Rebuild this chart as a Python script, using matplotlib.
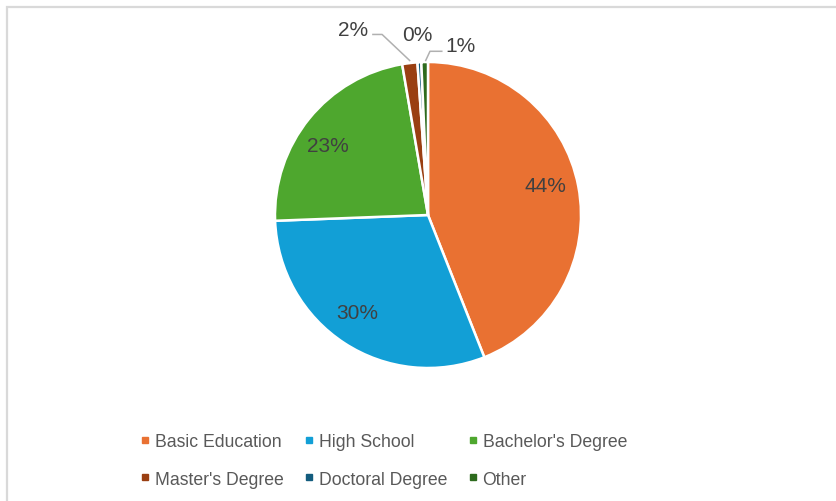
import matplotlib
matplotlib.use("Agg")
import matplotlib.pyplot as plt
from matplotlib.lines import Line2D
from matplotlib.patches import Rectangle

plt.rcParams['font.family'] = ['Liberation Sans', 'DejaVu Sans']

# education level shares (percent)
categories = ["Basic Education", "High School", "Bachelor's Degree",
              "Master's Degree", "Doctoral Degree", "Other"]
shares = [44.0, 30.4, 22.9, 1.6, 0.4, 0.7]
colors = ["#E97132", "#129FD6", "#4EA72E", "#9A3F12", "#135C7E", "#2E6B1E"]

# where each percentage label sits, relative to a unit pie
label_pos = [(0.765, 0.196), (-0.464, -0.64), (-0.654, 0.451),
             (-0.49, 1.21), (-0.07, 1.18), (0.21, 1.11)]

W, H = 837, 502
fig = plt.figure(figsize=(W / 100, H / 100), dpi=100)

# light frame around the chart area
fig.patches.append(Rectangle((7 / W, -0.1), 1.2, 1 - 8 / H + 0.1,
                             transform=fig.transFigure, fill=False,
                             edgecolor="#D9D9D9", linewidth=1.6))

cx, cy, r = 428, H - 216, 153
ax = fig.add_axes([(cx - r) / W, (cy - r) / H, 2 * r / W, 2 * r / H])
wedges, _ = ax.pie(shares, colors=colors, startangle=90, counterclock=False,
                   wedgeprops=dict(edgecolor="white", linewidth=1.8))
ax.set_xlim(-1, 1)
ax.set_ylim(-1, 1)
ax.set_aspect("equal")
ax.axis("off")

for val, (x, y) in zip(shares, label_pos):
    ax.text(x, y, f"{val:.0f}%", ha="center", va="center",
            fontsize=15, color="#404040")

# leader lines for the two thin slices at the top
ax.plot([-0.36, -0.30, -0.12], [1.18, 1.18, 1.01], color="#B0B0B0",
        linewidth=1.1, clip_on=False)
ax.plot([0.09, 0.013, -0.015], [1.07, 1.07, 1.01], color="#B0B0B0",
        linewidth=1.1, clip_on=False)

# legend: three columns, filled row by row
order = [0, 3, 1, 4, 2, 5]
handles = [Line2D([], [], marker="s", linestyle="", markersize=4.5,
                  color=colors[i]) for i in order]
labels = [categories[i] for i in order]
fig.legend(handles, labels, ncol=3, frameon=False, fontsize=12.7,
           labelcolor="#595959", handlelength=0.5, handletextpad=0.3,
           columnspacing=1.2, labelspacing=1.18, borderpad=0,
           loc="upper left", bbox_to_anchor=(132 / W, 1 - 425 / H))

fig.savefig("out.png", dpi=100)
